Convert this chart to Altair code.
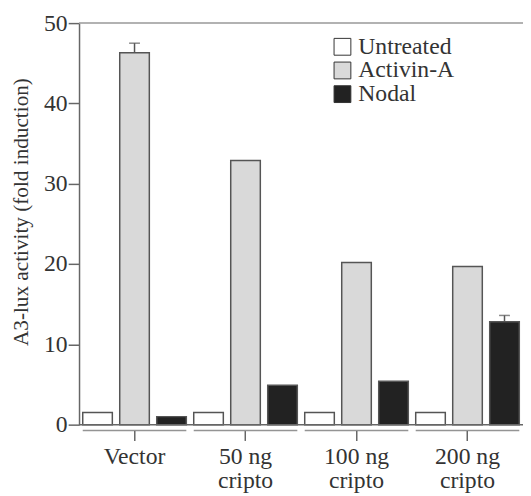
import altair as alt
import pandas as pd

groups = ["Vector", "50 ng|cripto", "100 ng|cripto", "200 ng|cripto"]
series = ["Untreated", "Activin-A", "Nodal"]
untreated = [1.5, 1.5, 1.5, 1.5]
activin = [46.3, 32.9, 20.2, 19.7]
nodal = [1.0, 4.9, 5.4, 12.8]
activin_err = [1.2, 0.0, 0.0, 0.0]
nodal_err = [0.0, 0.0, 0.0, 0.8]
colors = ["#ffffff", "#d9d9d9", "#222222"]

rows = []
for i, g in enumerate(groups):
    rows.append(dict(group=g, series="Untreated", value=untreated[i], err=0.0))
    rows.append(dict(group=g, series="Activin-A", value=activin[i], err=activin_err[i]))
    rows.append(dict(group=g, series="Nodal", value=nodal[i], err=nodal_err[i]))
df = pd.DataFrame(rows)
df["upper"] = df["value"] + df["err"]
err_df = df[df["err"] > 0]
grp_df = pd.DataFrame({"group": groups})

FONT = "Liberation Serif"
TXT = "#333333"
LINE = "#666666"
FS = 24

xenc = alt.X("group:N", sort=groups, scale=alt.Scale(paddingInner=0, paddingOuter=0),
             axis=alt.Axis(title=None, labelAngle=0, domain=False, ticks=True, tickSize=10,
                           tickWidth=1.5, tickColor=LINE, offset=6, labelPadding=4,
                           labelFont=FONT, labelFontSize=FS, labelColor=TXT,
                           labelLineHeight=25, labelExpr="split(datum.label, '|')"))
xoff = alt.XOffset("series:N", sort=series, scale=alt.Scale(paddingInner=0.2, paddingOuter=0.1))
yenc = alt.Y("value:Q", scale=alt.Scale(domain=[0, 50]),
             axis=alt.Axis(title="A3-lux activity (fold induction)", values=[0, 10, 20, 30, 40, 50],
                           grid=False, domainColor=LINE, domainWidth=1.5, tickColor=LINE,
                           tickWidth=1.5, tickSize=11, labelPadding=1, labelFont=FONT,
                           labelFontSize=FS, labelColor=TXT, titleFont=FONT, titleFontSize=21.5,
                           titleFontWeight="normal", titleColor=TXT, titlePadding=11,
                           titleY=191))

bars = alt.Chart(df).mark_bar(stroke="#555555", strokeWidth=1.5).encode(
    x=xenc, xOffset=xoff, y=yenc,
    fill=alt.Fill("series:N", sort=series,
                  scale=alt.Scale(domain=series, range=colors),
                  legend=alt.Legend(title=None, orient="none", legendX=255, legendY=12,
                                    symbolType="square", symbolSize=290,
                                    symbolStrokeColor="#333333", symbolStrokeWidth=1,
                                    labelFont=FONT, labelFontSize=FS, labelColor=TXT,
                                    rowPadding=-1.5, labelOffset=4)),
)

err_rule = alt.Chart(err_df).mark_rule(color="#555555", strokeWidth=1.5).encode(
    x=alt.X("group:N", sort=groups), xOffset=alt.XOffset("series:N", sort=series),
    y="value:Q", y2="upper:Q")
err_cap = alt.Chart(err_df).mark_tick(orient="horizontal", size=11, thickness=1.5,
                                      color="#555555").encode(
    x=alt.X("group:N", sort=groups), xOffset=alt.XOffset("series:N", sort=series),
    y="upper:Q")

base_rule = alt.Chart(pd.DataFrame({"v": [0]})).mark_rule(color=LINE, strokeWidth=1.5).encode(
    y=alt.Y("v:Q"))
top_rule = alt.Chart(pd.DataFrame({"v": [50]})).mark_rule(color="#999999", strokeWidth=1.5).encode(
    y=alt.Y("v:Q"))

seg = alt.Chart(grp_df).mark_tick(orient="horizontal", size=105, thickness=1.5,
                                  color=LINE).encode(
    x=alt.X("group:N", sort=groups), y=alt.value(413))

chart = alt.layer(bars, err_rule, err_cap, base_rule, top_rule, seg).resolve_scale(
    xOffset="shared").properties(
    width=450, height=407,
    autosize=alt.AutoSizeParams(type="none"),
    padding={"left": 72, "top": 12, "right": 0, "bottom": 69},
).configure_view(stroke=None)

chart.save("out.html", embed_options={"renderer": "svg", "actions": False})
